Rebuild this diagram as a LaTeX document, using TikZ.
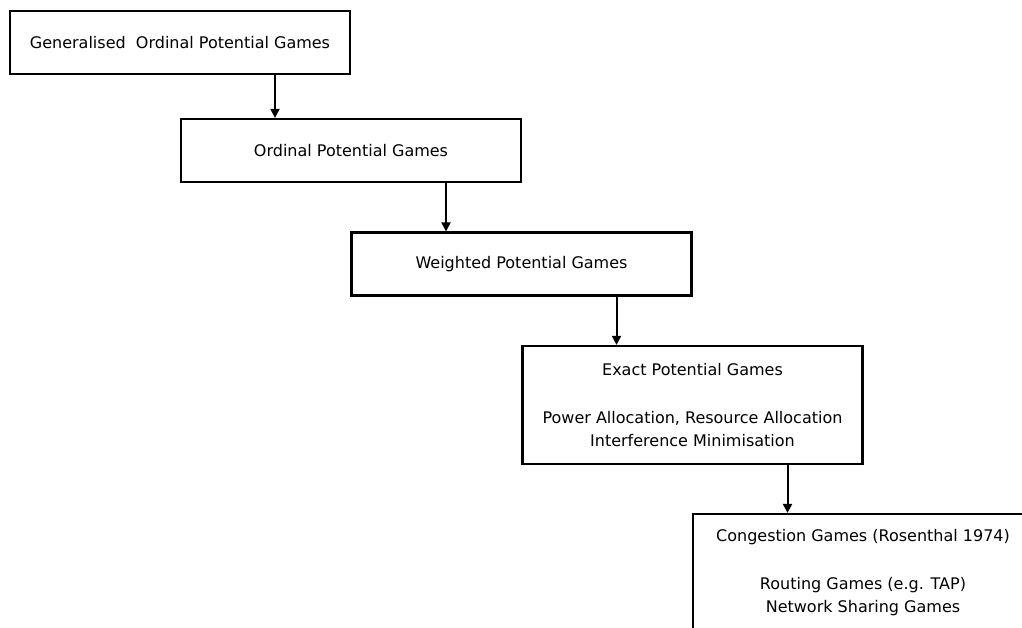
\documentclass[tikz,border=0pt]{standalone}
\usepackage{fontspec}
\setmainfont{DejaVu Sans}
\usetikzlibrary{arrows.meta}

\begin{document}
\begin{tikzpicture}[
    x=1pt, y=-1pt,
    gamebox/.style={draw, line width=2.2pt, minimum width=340pt,
                    minimum height=63pt, align=center, inner sep=0pt,
                    font=\fontsize{16}{23}\selectfont},
    tallbox/.style={gamebox, minimum height=118pt},
    arr/.style={line width=2pt, -{Triangle[length=9pt,width=9pt]}}
]
\useasboundingbox (0,0) rectangle (1022,628);
\clip (0,0) rectangle (1022,628);

% ---------- boxes, each one step right and down ----------
\node[gamebox] (gen)   at (180,42.5)  {Generalised~ Ordinal Potential Games};
\node[gamebox] (ord)   at (351,150.5) {Ordinal Potential Games};
\node[gamebox] (wgt)   at (521.5,264) {Weighted Potential Games};
\node[tallbox] (exact) at (692.5,405) {Exact Potential Games\\[25pt]
      Power Allocation, Resource Allocation\\Interference Minimisation};
\node[tallbox] (cong)  at (863,573)   {Congestion Games (Rosenthal 1974)\\[25pt]
      Routing Games (e.g. TAP)\\Network Sharing Games};

% ---------- arrows ----------
\foreach \a/\b in {gen/ord, ord/wgt, wgt/exact, exact/cong}
  \draw[arr] ([xshift=95pt]\a.south) -- ([xshift=95pt]\a.south |- \b.north);

\end{tikzpicture}
\end{document}
